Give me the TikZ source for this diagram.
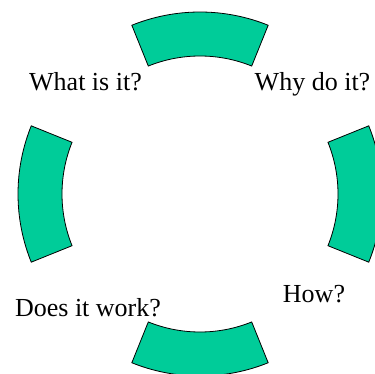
\documentclass[tikz,border=0pt]{standalone}
\usepackage{fontspec}
\setmainfont{Liberation Serif}
\usepackage{tikz}
\definecolor{petal}{RGB}{0,204,153}

\begin{document}
\begin{tikzpicture}[x=1pt, y=1pt, line width=0.8pt,
    petalshape/.style={fill=petal, draw=black, line join=miter},
    question/.style={anchor=base, inner sep=0pt, font=\fontsize{26}{29}\selectfont}]
  \useasboundingbox (0,0) rectangle (375,373);
  \clip (0,0) rectangle (375,373);
  \coordinate (hub) at (200,179);
  % four ring pieces
  \foreach \a in {0,90,180,270}
    \draw[petalshape] ([shift={(\a-22:182)}]hub) arc[start angle=\a-22, end angle=\a+22, radius=182]
          -- ([shift={(\a+22:138)}]hub) arc[start angle=\a+22, end angle=\a-22, radius=138] -- cycle;
  \node[question] (what) at (85.5,283) {What is it?};
  \node[question] (why) at (312.5,282) {Why do it?};
  \node[question] (how) at (314,71) {How?};
  \node[question] (works) at (88,57) {Does it work?};
\end{tikzpicture}
\end{document}
